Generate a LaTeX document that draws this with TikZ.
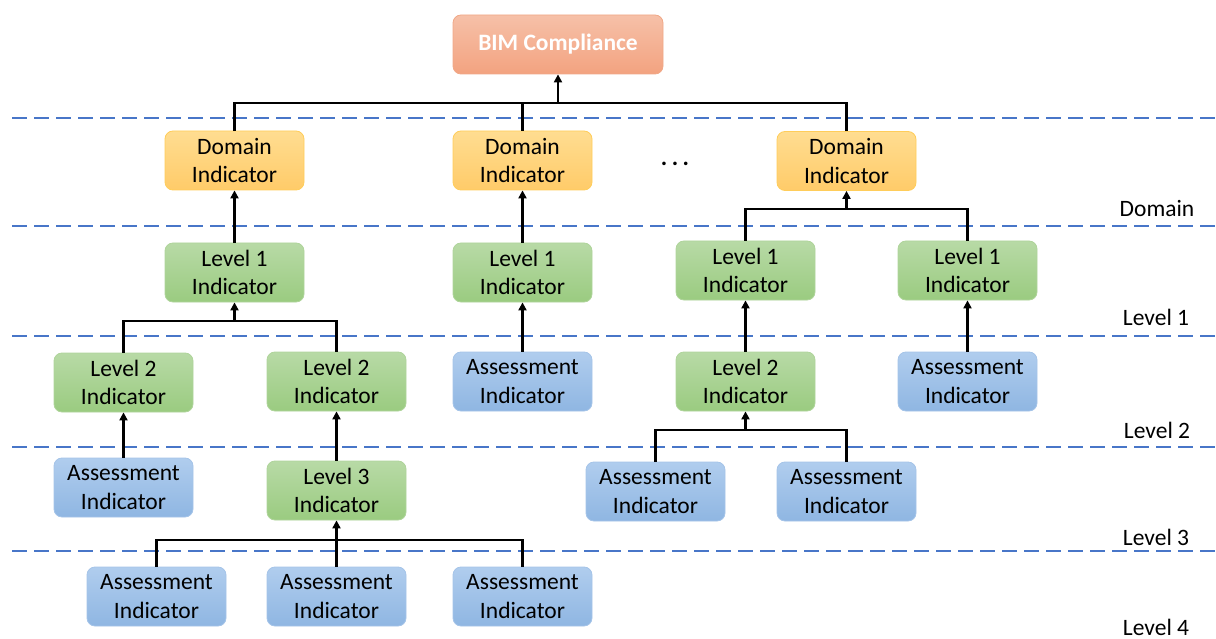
\documentclass[tikz,border=0pt]{standalone}
\usepackage{fontspec}
\setmainfont{Carlito}
\usetikzlibrary{arrows.meta}

\definecolor{orTop}{RGB}{246,192,168}
\definecolor{orBot}{RGB}{243,163,128}
\definecolor{orLine}{RGB}{240,168,135}
\definecolor{yeTop}{RGB}{255,221,145}
\definecolor{yeBot}{RGB}{255,203,105}
\definecolor{yeLine}{RGB}{255,205,90}
\definecolor{grTop}{RGB}{184,218,166}
\definecolor{grBot}{RGB}{154,203,128}
\definecolor{grLine}{RGB}{175,212,155}
\definecolor{blTop}{RGB}{176,205,238}
\definecolor{blBot}{RGB}{143,182,226}
\definecolor{blLine}{RGB}{165,196,232}
\definecolor{sepBlue}{RGB}{72,118,200}

\tikzset{
  box/.style={rounded corners=8pt, minimum width=139pt, minimum height=59pt,
    align=center, font=\fontsize{23.5}{28.5}\selectfont, line width=0.8pt, inner sep=2pt},
  topbox/.style={box, minimum width=210pt, top color=orTop, bottom color=orBot, draw=orLine,
    text=white, font=\fontsize{23.5}{28.5}\selectfont\bfseries},
  dombox/.style={box, top color=yeTop, bottom color=yeBot, draw=yeLine},
  lvlbox/.style={box, top color=grTop, bottom color=grBot, draw=grLine},
  asmbox/.style={box, top color=blTop, bottom color=blBot, draw=blLine},
  link/.style={line width=2.5pt, black},
  uplink/.style={link, -{Triangle[length=8pt,width=8pt]}},
  sep/.style={sepBlue, line width=2pt, dash pattern=on 15pt off 7pt},
  tier/.style={font=\fontsize{23.5}{28.5}\selectfont}
}

\begin{document}
\begin{tikzpicture}[x=1pt, y=-1pt]
\useasboundingbox (0,0) rectangle (1216,639);

% separators between tiers
\foreach \yy in {118,226,336,447,551}
  \draw[sep] (12,\yy) -- (1216,\yy);

% tier names
\node[tier] (tDom) at (1157,209) {Domain};
\node[tier] (tL1) at (1156,317) {Level 1};
\node[tier] (tL2) at (1157,430) {Level 2};
\node[tier] (tL3) at (1156,537) {Level 3};
\node[tier] (tL4) at (1156,627) {Level 4};

% root
\node[topbox] (bim) at (558,44.5) {BIM Compliance};

% domain indicators
\node[dombox] (d1) at (234.5,160.5) {Domain\\Indicator};
\node[dombox] (d2) at (522.5,160.5) {Domain\\Indicator};
\node[dombox] (d3) at (846.5,161) {Domain\\Indicator};
\node[anchor=base, inner sep=0pt, font=\fontsize{24}{28}\selectfont\bfseries] (dots) at (675,166)
  {.\hspace{4.5pt}.\hspace{4.5pt}.};

% level 1 indicators
\node[lvlbox] (l1a) at (234.5,272.5) {Level 1\\Indicator};
\node[lvlbox] (l1b) at (522.5,272.5) {Level 1\\Indicator};
\node[lvlbox] (l1c) at (745.5,270.5) {Level 1\\Indicator};
\node[lvlbox] (l1d) at (967.5,270.5) {Level 1\\Indicator};

% level 2 row
\node[lvlbox] (l2a) at (123.5,382.5) {Level 2\\Indicator};
\node[lvlbox] (l2b) at (336.5,381.5) {Level 2\\Indicator};
\node[asmbox] (a1) at (522.5,381.5) {Assessment\\Indicator};
\node[lvlbox] (l2c) at (745.5,381.5) {Level 2\\Indicator};
\node[asmbox] (a2) at (967.5,381.5) {Assessment\\Indicator};

% level 3 row
\node[asmbox] (a3) at (123.5,487.5) {Assessment\\Indicator};
\node[lvlbox] (l3a) at (336.5,490.5) {Level 3\\Indicator};
\node[asmbox] (a7) at (655.5,491.5) {Assessment\\Indicator};
\node[asmbox] (a8) at (846.5,491.5) {Assessment\\Indicator};

% level 4 row
\node[asmbox] (a4) at (156.5,596.5) {Assessment\\Indicator};
\node[asmbox] (a5) at (336.5,596.5) {Assessment\\Indicator};
\node[asmbox] (a6) at (522.5,596.5) {Assessment\\Indicator};

% junction points of the branching connectors
\coordinate (jTop) at (558,103);
\coordinate (jD3) at (846.5,209);
\coordinate (jL1a) at (234.5,321);
\coordinate (jL2c) at (745.5,430);
\coordinate (jL3a) at (336.5,540);

% domains into the root
\draw[link] (d1.north) |- (jTop);
\draw[link] (d2.north) |- (jTop);
\draw[link] (d3.north) |- (jTop);
\draw[uplink] (jTop) -- (bim.south);

% first domain branch
\draw[uplink] (l1a.north) -- (d1.south);
\draw[link] (l2a.north) |- (jL1a);
\draw[link] (l2b.north) |- (jL1a);
\draw[uplink] (jL1a) -- (l1a.south);
\draw[uplink] (a3.north) -- (l2a.south);
\draw[uplink] (l3a.north) -- (l2b.south);
\draw[link] (a4.north) |- (jL3a);
\draw[link] (a5.north) -- (jL3a);
\draw[link] (a6.north) |- (jL3a);
\draw[uplink] (jL3a) -- (l3a.south);

% second domain branch
\draw[uplink] (l1b.north) -- (d2.south);
\draw[uplink] (a1.north) -- (l1b.south);

% third domain branch
\draw[link] (l1c.north) |- (jD3);
\draw[link] (l1d.north) |- (jD3);
\draw[uplink] (jD3) -- (d3.south);
\draw[uplink] (l2c.north) -- (l1c.south);
\draw[uplink] (a2.north) -- (l1d.south);
\draw[link] (a7.north) |- (jL2c);
\draw[link] (a8.north) |- (jL2c);
\draw[uplink] (jL2c) -- (l2c.south);
\end{tikzpicture}
\end{document}
